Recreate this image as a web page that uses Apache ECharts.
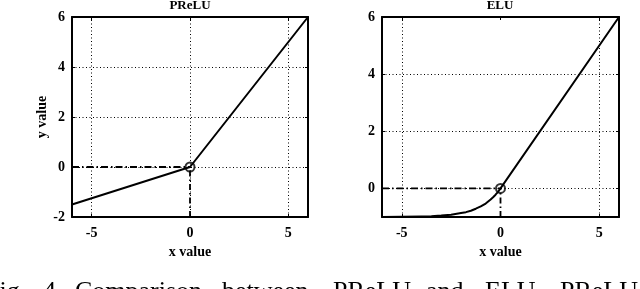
<!DOCTYPE html>
<html>
<head>
<meta charset="utf-8">
<script src="https://cdn.jsdelivr.net/npm/echarts@6/dist/echarts.min.js"></script>
<style>
html,body{margin:0;padding:0;background:#fff;}
#c{width:640px;height:289px;}
</style>
</head>
<body>
<div id="c"></div>
<script>
// ---- data ----
const preluX = [-6, 0, 6];
const preluY = [-1.5, 0, 6];
const eluX = [-6, -5, -4, -3.5, -3, -2.5, -2, -1.75, -1.5, -1.25, -1, -0.75, -0.5, -0.375, -0.25, -0.125, 0, 6];
const eluY = [-1.0, -0.99, -0.98, -0.97, -0.95, -0.92, -0.86, -0.83, -0.78, -0.71, -0.63, -0.53, -0.39, -0.31, -0.22, -0.12, 0, 6];
const xTicks = [-5, 0, 5];
const preluYTicks = [-2, 0, 2, 4, 6];
const eluYTicks = [0, 2, 4, 6];
const preluGridX = [-5, 0, 5];
const preluGridY = [0, 2, 4];
const eluGridX = [-5, 5];
const eluGridY = [0, 2, 4];
const xRange = [-6, 6];
const preluYRange = [-2, 6];
const eluYRange = [-1, 6];
const titles = ['PReLU', 'ELU'];
const xName = 'x value';
const yName = 'y value';
const captionWords = ['Fig.', '4.', 'Comparison', 'between', 'PReLU', 'and', 'ELU.', 'PReLU'];

const FONT = 'Liberation Serif';
const pairs = (xs, ys) => xs.map((x, i) => [x, ys[i]]);

const chart = echarts.init(document.getElementById('c'), null, {renderer: 'canvas'});

function axisX(gi, pos, showLabel, name) {
  return {
    type: 'value', gridIndex: gi, position: pos,
    min: xRange[0], max: xRange[1],
    name: name || '', nameLocation: 'middle', nameGap: 28,
    nameTextStyle: {fontFamily: FONT, fontWeight: 'bold', fontSize: 14, color: '#000'},
    axisLine: {show: true, onZero: false, lineStyle: {color: '#000', width: 2}},
    axisTick: {show: true, inside: true, length: 3, customValues: xTicks, lineStyle: {color: '#000', width: 1}},
    axisLabel: {show: showLabel, customValues: xTicks, margin: 9, fontFamily: FONT, fontWeight: 'bold', fontSize: 14, color: '#000'},
    splitLine: {show: false}
  };
}
function axisY(gi, pos, showLabel, range, ticks, name) {
  return {
    type: 'value', gridIndex: gi, position: pos,
    min: range[0], max: range[1],
    name: name || '', nameLocation: 'middle', nameGap: 23,
    nameTextStyle: {fontFamily: FONT, fontWeight: 'bold', fontSize: 14, color: '#000'},
    axisLine: {show: true, onZero: false, lineStyle: {color: '#000', width: 2}},
    axisTick: {show: true, inside: true, length: 3, customValues: ticks, lineStyle: {color: '#000', width: 1}},
    axisLabel: {show: showLabel, customValues: ticks, margin: 7, fontFamily: FONT, fontWeight: 'bold', fontSize: 14, color: '#000'},
    splitLine: {show: false}
  };
}

function gridSeries(xi, yi, gx, gy) {
  return {
    type: 'line', xAxisIndex: xi, yAxisIndex: yi, data: [[0, 0]], symbol: 'none',
    lineStyle: {opacity: 0}, silent: true, z: 1,
    markLine: {
      silent: true, symbol: 'none', animation: false,
      label: {show: false},
      lineStyle: {color: '#000', width: 1, type: [1, 2.5]},
      data: gx.map(v => ({xAxis: v})).concat(gy.map(v => ({yAxis: v})))
    }
  };
}
function refSeries(xi, yi, ymin) {
  return [
    {type: 'line', xAxisIndex: xi, yAxisIndex: yi, data: [[xRange[0], 0], [0, 0]], symbol: 'none', z: 2,
     lineStyle: {color: '#000', width: 1.8, type: [7, 3, 1.5, 3]}},
    {type: 'line', xAxisIndex: xi, yAxisIndex: yi, data: [[0, ymin], [0, 0]], symbol: 'none', z: 2,
     lineStyle: {color: '#000', width: 1.8, type: [6, 3, 1.5, 3]}}
  ];
}
function originSeries(xi, yi) {
  return {type: 'scatter', xAxisIndex: xi, yAxisIndex: yi, data: [[0, 0]], symbol: 'circle', symbolSize: 9, z: 5,
          itemStyle: {color: 'rgba(0,0,0,0)', borderColor: '#000', borderWidth: 2}};
}

const captionX = [-15, 43, 75, 222, 333, 426, 485, 560];

const option = {
  animation: false,
  backgroundColor: '#fff',
  grid: [
    {left: 72, top: 17, width: 236, height: 200},
    {left: 382, top: 17, width: 237, height: 200}
  ],
  xAxis: [
    axisX(0, 'bottom', true, xName),
    axisX(0, 'top', false),
    axisX(1, 'bottom', true, xName),
    axisX(1, 'top', false)
  ],
  yAxis: [
    axisY(0, 'left', true, preluYRange, preluYTicks, yName),
    axisY(0, 'right', false, preluYRange, preluYTicks),
    axisY(1, 'left', true, eluYRange, eluYTicks),
    axisY(1, 'right', false, eluYRange, eluYTicks)
  ],
  graphic: titles.map((t, i) => ({
    type: 'text', x: i === 0 ? 190 : 500, y: 6, silent: true,
    style: {text: t, fill: '#000', font: 'bold 13px "' + FONT + '"', align: 'center', verticalAlign: 'middle'}
  })).concat(captionWords.map((w, i) => ({
    type: 'text', x: captionX[i], y: 279, silent: true,
    style: {text: w, fill: '#000', font: '26px "' + FONT + '"', align: 'left', verticalAlign: 'top'}
  }))),
  series: [
    gridSeries(0, 0, preluGridX, preluGridY),
    ...refSeries(0, 0, preluYRange[0]),
    {type: 'line', xAxisIndex: 0, yAxisIndex: 0, data: pairs(preluX, preluY), symbol: 'none', z: 3,
     lineStyle: {color: '#000', width: 2}},
    originSeries(0, 0),
    gridSeries(2, 2, eluGridX, eluGridY),
    ...refSeries(2, 2, eluYRange[0]),
    {type: 'line', xAxisIndex: 2, yAxisIndex: 2, data: pairs(eluX, eluY), symbol: 'none', z: 3,
     lineStyle: {color: '#000', width: 2, join: 'round'}},
    originSeries(2, 2)
  ]
};
chart.setOption(option);
</script>
</body>
</html>
